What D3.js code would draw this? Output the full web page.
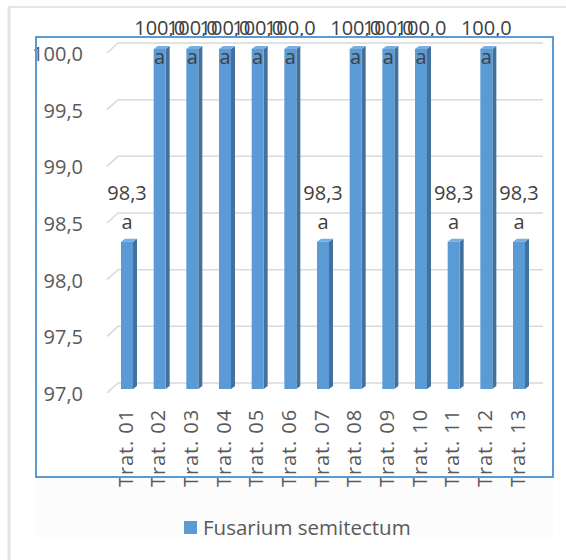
<!DOCTYPE html>
<html>
<head>
<meta charset="utf-8">
<script src="https://cdn.jsdelivr.net/npm/d3@7"></script>
<style>
  body { margin: 0; background: #ffffff; }
  text { font-family: "Open Sans", "Noto Sans", sans-serif; }
</style>
</head>
<body>
<svg id="chart" width="566" height="560"></svg>
<script>
// Treatments and their values
const categories = ["Trat. 01", "Trat. 02", "Trat. 03", "Trat. 04", "Trat. 05", "Trat. 06", "Trat. 07",
                    "Trat. 08", "Trat. 09", "Trat. 10", "Trat. 11", "Trat. 12", "Trat. 13"];
const values = [98.3, 100.0, 100.0, 100.0, 100.0, 100.0, 98.3, 100.0, 100.0, 100.0, 98.3, 100.0, 98.3];
const groupLetters = ["a", "a", "a", "a", "a", "a", "a", "a", "a", "a", "a", "a", "a"];
const yTicks = [97.0, 97.5, 98.0, 98.5, 99.0, 99.5, 100.0];
const seriesName = "Fusarium semitectum";

const fmt = d => d.toFixed(1).replace(".", ",");

const svg = d3.select("#chart");
const barColor = "#5b9bd5", sideColor = "#41719c", topColor = "#7aaede";
const textColor = "#595959", labelColor = "#404040";

// Back wall scale (perspective offsets applied to front plane)
const y = d3.scaleLinear().domain([97, 100]).range([383, 43]);
const x = d3.scalePoint().domain(categories).range([127, 519]);

// Outer frame edges
svg.append("line").attr("x1", 8).attr("y1", 7).attr("x2", 566).attr("y2", 7)
  .attr("stroke", "#e6e6e6").attr("stroke-width", 2);
svg.append("line").attr("x1", 9).attr("y1", 7).attr("x2", 9).attr("y2", 560)
  .attr("stroke", "#e3e3e3").attr("stroke-width", 3);

// Faint legend area under the plot
svg.append("rect").attr("x", 36).attr("y", 478).attr("width", 517).attr("height", 60)
  .attr("fill", "#fcfcfc");

// 3D gridlines: short diagonal at the side wall, then along the back wall
svg.append("g").selectAll("path").data(yTicks).join("path")
  .attr("d", t => `M107,${y(t) + 10}L118,${y(t)}L543,${y(t)}`)
  .attr("fill", "none").attr("stroke", "#d9d9d9").attr("stroke-width", 1.5);

// Y axis labels
const yAxis = svg.append("g").attr("transform", "translate(83,11)")
  .call(d3.axisLeft(y).tickValues(yTicks).tickFormat(fmt).tickSize(0).tickPadding(0));
yAxis.select(".domain").remove();
yAxis.selectAll("text").attr("fill", textColor).style("font-size", "20px")
  .style("font-family", "'Open Sans', sans-serif");

// Columns
const depthX = 4, depthY = 3, half = 6, frontOff = 6;
const bars = svg.append("g").selectAll("g").data(values).join("g");
bars.each(function (v, i) {
  const g = d3.select(this);
  const cx = x(categories[i]);
  const top = y(v) + frontOff, bottom = y(97) + frontOff;
  g.append("polygon")
    .attr("points", [[cx + half, top], [cx + half + depthX, top - depthY],
                     [cx + half + depthX, bottom - depthY], [cx + half, bottom]].join(" "))
    .attr("fill", sideColor);
  g.append("polygon")
    .attr("points", [[cx - half, top], [cx - half + depthX, top - depthY],
                     [cx + half + depthX, top - depthY], [cx + half, top]].join(" "))
    .attr("fill", topColor);
  g.append("rect").attr("x", cx - half).attr("y", top)
    .attr("width", half * 2).attr("height", bottom - top).attr("fill", barColor);
});

// Data labels: value and group letter, kept inside the chart area
const labels = svg.append("g").selectAll("g").data(values).join("g")
  .attr("transform", (v, i) => `translate(${x(categories[i])},${Math.max(y(v) - 43, 28)})`);
labels.append("text").attr("text-anchor", "middle").attr("dy", "0.35em")
  .attr("fill", labelColor).style("font-size", "20px").text(v => fmt(v));
labels.append("text").attr("text-anchor", "middle").attr("y", 29).attr("dy", "0.35em")
  .attr("fill", labelColor).style("font-size", "20px").text((v, i) => groupLetters[i]);

// Category axis with rotated labels
const xAxis = svg.append("g").attr("transform", "translate(-2,409)")
  .call(d3.axisBottom(x).tickSize(0).tickPadding(0));
xAxis.select(".domain").remove();
xAxis.selectAll("text")
  .attr("x", 0).attr("y", 0).attr("dy", "0.35em")
  .attr("transform", "rotate(-90)")
  .style("text-anchor", "end").style("font-size", "20px")
  .style("letter-spacing", "0.9px")
  .style("font-family", "'Open Sans', sans-serif")
  .attr("fill", textColor);

// Plot area border
svg.append("rect").attr("x", 36).attr("y", 37).attr("width", 517).attr("height", 440)
  .attr("fill", "none").attr("stroke", "#5b9bd5").attr("stroke-width", 2);

// Legend
const legend = svg.append("g").attr("transform", "translate(184,521)");
legend.append("rect").attr("width", 13).attr("height", 13).attr("fill", barColor);
legend.append("text").attr("x", 19).attr("y", 6.5).attr("dy", "0.35em")
  .attr("fill", textColor).style("font-size", "20.5px").text(seriesName);
</script>
</body>
</html>
